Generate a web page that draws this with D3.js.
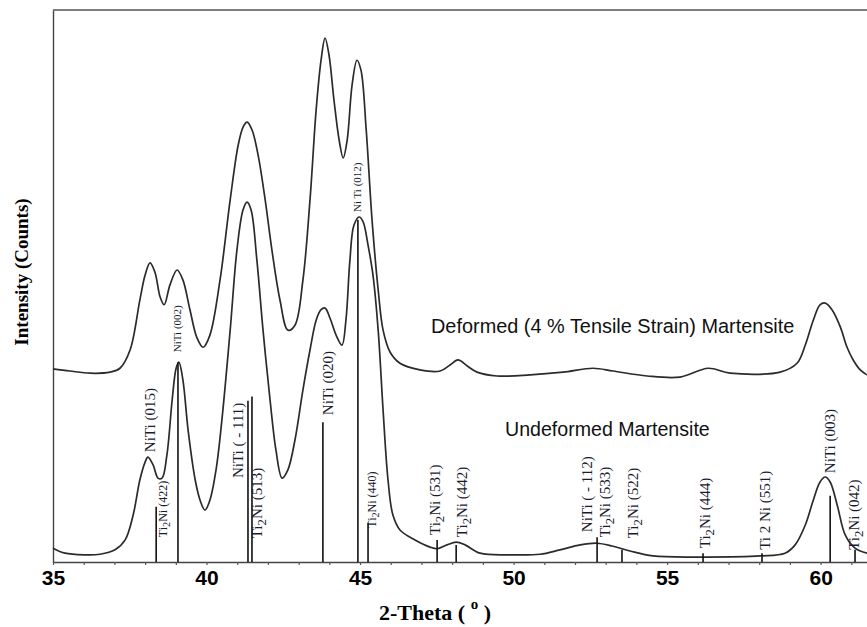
<!DOCTYPE html>
<html>
<head>
<meta charset="utf-8">
<script src="https://cdn.jsdelivr.net/npm/d3@7"></script>
<style>
  html, body { margin: 0; padding: 0; background: #fff; }
  svg { display: block; }
</style>
</head>
<body>
<svg id="chart" width="867" height="627"></svg>
<script>
// ---------- DATA ----------
const xTickValues = [35, 40, 45, 50, 55, 60];
const xTickLabels = ["35", "40", "45", "50", "55", "60"];

const deformedTheta = [35.00,35.55,36.21,36.86,37.18,37.51,37.83,38.00,38.16,38.32,38.49,38.62,38.81,39.04,39.23,39.46,39.69,39.89,40.11,40.44,40.77,41.03,41.19,41.32,41.48,41.68,41.91,42.13,42.39,42.65,42.88,43.14,43.37,43.57,43.73,43.86,43.99,44.15,44.32,44.45,44.58,44.74,44.90,45.03,45.20,45.39,45.59,45.75,45.98,46.30,46.95,47.61,47.93,48.19,48.49,48.81,49.46,50.54,51.61,52.59,53.24,54.35,55.42,56.34,57.05,58.68,59.23,59.50,59.76,59.98,60.15,60.37,60.64,60.86,61.06,61.29,61.51];
const deformedCounts = [350,346,342,344,351,384,475,520,542,525,480,466,502,529,511,457,406,389,411,511,656,755,788,797,783,737,656,565,475,420,429,511,656,819,909,949,918,837,764,732,764,864,909,891,783,620,493,420,380,360,348,346,357,366,355,344,337,339,344,351,346,337,335,351,342,344,360,393,438,466,469,457,426,389,366,348,339];

const undeformedTheta = [35.00,35.39,36.04,36.53,37.02,37.35,37.61,37.83,38.00,38.09,38.26,38.42,38.55,38.71,38.88,39.01,39.10,39.23,39.40,39.63,39.79,39.95,40.11,40.31,40.50,40.77,40.99,41.19,41.32,41.45,41.64,41.84,42.07,42.26,42.46,42.65,42.88,43.14,43.37,43.57,43.73,43.86,44.02,44.22,44.41,44.54,44.67,44.80,44.97,45.10,45.26,45.42,45.59,45.75,45.91,46.07,46.30,46.79,47.28,47.51,47.83,48.13,48.42,48.91,49.89,50.86,51.51,52.17,52.72,53.21,53.79,54.54,56.07,58.03,58.84,59.17,59.50,59.76,59.98,60.15,60.31,60.54,60.80,61.12,61.51];
const undeformedCounts = [25,16,13,14,22,40,85,149,181,190,176,152,152,194,293,351,362,330,239,149,112,94,112,167,257,420,565,638,652,638,547,420,293,203,152,167,221,312,384,438,457,460,442,411,393,438,547,610,625,616,574,520,420,275,149,85,58,40,27,24,31,36,31,16,13,14,22,31,34,29,20,11,9,11,16,31,67,112,145,154,145,103,49,25,16];

// reference pattern (stick) lines: position and top intensity
const stickTheta = [38.36, 39.07, 41.35, 41.48, 43.79, 44.93, 45.26, 47.51, 48.13, 52.72, 53.53, 56.17, 58.09, 60.31, 61.12];
const stickTop   = [  100,   362,   292,   300,   253,   620,    71,    40,    31,    45,    22,    16,    16,   120,    22];

// peak labels: text parts [main, subscript, rest], label centre position, base intensity, font size
const labelPre  = ["NiTi (015)", "Ti", "NiTi (002)", "NiTi ( - 111)", "Ti", "NiTi (020)", "Ni Ti (012)", "Ti", "Ti", "Ti", "NiTi ( - 112)", "Ti", "Ti", "Ti", "Ti 2 Ni (551)", "NiTi (003)", "Ti"];
const labelSub  = ["", "2", "", "", "2", "", "", "2", "2", "2", "", "2", "2", "2", "", "", "2"];
const labelPost = ["", "Ni (422)", "", "", "Ni (513)", "", "", "Ni (440)", "Ni (531)", "Ni (442)", "", "Ni (533)", "Ni (522)", "Ni (444)", "", "", "Ni (042)"];
const labelTheta = [38.16, 38.58, 39.04, 41.03, 41.64, 43.96, 44.90, 45.39, 47.44, 48.32, 52.39, 52.98, 53.89, 56.24, 58.19, 60.31, 61.08];
const labelBase  = [199, 45, 380, 152, 43, 266, 634, 62, 49, 45, 54, 45, 43, 25, 22, 161, 22];
const labelSize  = [15, 12, 11, 15, 15, 15, 11, 12, 15, 15, 15, 15, 15, 15, 15, 15, 15];

const seriesNames = ["Deformed (4 % Tensile Strain) Martensite", "Undeformed Martensite"];

// ---------- CHART ----------
const svg = d3.select("#chart");
const W = 867, H = 627;
const margin = {left: 53, top: 10, right: 0, bottom: 65};

const x = d3.scaleLinear().domain([35, 61.51]).range([margin.left, W - margin.right]);
const y = d3.scaleLinear().domain([0, 1000]).range([H - margin.bottom, margin.top]);

const ink = "#2b2b2b";

// top frame line
svg.append("line")
  .attr("x1", x(35)).attr("x2", W).attr("y1", y(1000)).attr("y2", y(1000))
  .attr("stroke", "#555").attr("stroke-width", 1.3);

// y axis (no ticks)
svg.append("g")
  .attr("transform", `translate(${margin.left},0)`)
  .call(d3.axisLeft(y).tickValues([]).tickSizeOuter(0))
  .call(g => g.select(".domain").attr("stroke", "#444").attr("stroke-width", 1.4));

// x axis minor ticks
const minorTicks = d3.range(35, 62, 1);
svg.append("g")
  .attr("transform", `translate(0,${y(0)})`)
  .call(d3.axisBottom(x).tickValues(minorTicks).tickSize(3).tickSizeOuter(0).tickFormat(""))
  .call(g => g.select(".domain").attr("stroke", "#444").attr("stroke-width", 1.4))
  .call(g => g.selectAll(".tick line").attr("stroke", "#555").attr("stroke-width", 1.2));

// x axis labels
svg.append("g")
  .attr("transform", `translate(0,${y(0)})`)
  .call(d3.axisBottom(x).tickValues(xTickValues).tickSize(0).tickPadding(8)
        .tickFormat((d, i) => xTickLabels[i]))
  .call(g => g.select(".domain").remove())
  .call(g => g.selectAll("text")
      .attr("font-family", "'Liberation Sans', Arial, sans-serif")
      .attr("font-weight", "bold").attr("font-size", 21).attr("fill", "#000"));

// curves
const line = d3.line().x(d => x(d[0])).y(d => y(d[1])).curve(d3.curveCatmullRom.alpha(0.5));
const deformed = d3.zip(deformedTheta, deformedCounts);
const undeformed = d3.zip(undeformedTheta, undeformedCounts);

svg.append("path").datum(deformed).attr("d", line)
  .attr("fill", "none").attr("stroke", ink).attr("stroke-width", 1.7);
svg.append("path").datum(undeformed).attr("d", line)
  .attr("fill", "none").attr("stroke", ink).attr("stroke-width", 1.7);

// stick lines
svg.append("g").selectAll("line").data(d3.zip(stickTheta, stickTop)).join("line")
  .attr("x1", d => x(d[0])).attr("x2", d => x(d[0]))
  .attr("y1", y(0)).attr("y2", d => y(d[1]))
  .attr("stroke", "#111").attr("stroke-width", 1.6);

// peak labels
const labels = labelPre.map((p, i) => ({pre: p, sub: labelSub[i], post: labelPost[i],
  t: labelTheta[i], b: labelBase[i], fs: labelSize[i]}));
const lg = svg.append("g");
labels.forEach(d => {
  const t = lg.append("text")
    .attr("transform", `translate(${x(d.t)},${y(d.b)}) rotate(-90)`)
    .attr("dy", "0.35em")
    .attr("font-family", "'Liberation Serif', 'Times New Roman', serif")
    .attr("font-size", d.fs).attr("fill", "#1b1b30");
  t.append("tspan").text(d.pre);
  if (d.sub) {
    t.append("tspan").attr("font-size", d.fs * 0.85).attr("baseline-shift", "-30%").text(d.sub);
    t.append("tspan").attr("font-size", d.fs).attr("baseline-shift", "0").text(d.post);
  }
});

// series annotations
svg.append("text").attr("x", 431).attr("y", 333)
  .attr("font-family", "'Liberation Sans', Arial, sans-serif").attr("font-size", 19.9)
  .attr("fill", "#111").text(seriesNames[0]);
svg.append("text").attr("x", 505).attr("y", 436)
  .attr("font-family", "'Liberation Sans', Arial, sans-serif").attr("font-size", 19.6)
  .attr("fill", "#111").text(seriesNames[1]);

// axis titles
svg.append("text")
  .attr("transform", `translate(28,272) rotate(-90)`)
  .attr("text-anchor", "middle")
  .attr("font-family", "'Liberation Serif', 'Times New Roman', serif")
  .attr("font-weight", "bold").attr("font-size", 19).attr("fill", "#000")
  .text("Intensity (Counts)");

const xt = svg.append("text")
  .attr("x", 435).attr("y", 620).attr("text-anchor", "middle")
  .attr("font-family", "'Liberation Serif', 'Times New Roman', serif")
  .attr("font-weight", "bold").attr("font-size", 22).attr("fill", "#000");
xt.append("tspan").text("2-Theta ( ");
xt.append("tspan").attr("font-size", 15).attr("dy", -11).text("o");
xt.append("tspan").attr("dy", 11).text(" )");
</script>
</body>
</html>
